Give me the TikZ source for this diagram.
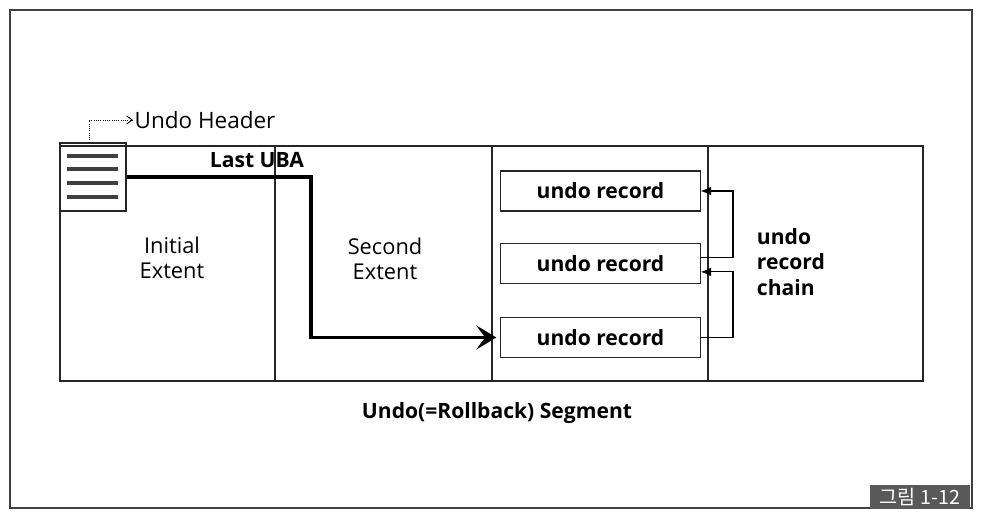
\documentclass[tikz,border=0pt]{standalone}
\usepackage{fontspec}
\setmainfont{Open Sans}
\newfontfamily\krfont{Noto Sans CJK KR}
\usepackage{tikz}
\usetikzlibrary{arrows.meta,positioning,calc}
\tikzset
{
	segline/.style = {draw=black!85, line width=0.8pt},
	hdrbox/.style = {rectangle, draw=black!85, line width=0.8pt, minimum width=1.65cm, minimum height=1.7cm, inner sep=0pt},
	recordbox/.style = {rectangle, draw=black!85, line width=0.8pt, minimum width=4.98cm, minimum height=1cm, font=\fontsize{15}{17}\selectfont\bfseries},
	extentlabel/.style = {align=center, font=\fontsize{15.5}{18}\selectfont},
	boldlabel/.style = {font=\fontsize{15}{18}\selectfont\bfseries},
	uba/.style = {line width=2.4pt, -{Stealth[length=5mm,width=6mm,inset=2.2mm]}},
	chainarrow/.style = {line width=0.8pt, -{Latex[length=2.6mm,width=2.2mm]}},
	hdrarrow/.style = {line width=0.6pt, densely dotted, -{Straight Barb[length=1.4mm,width=2mm]}}
}

\begin{document}
\begin{tikzpicture}[x=0.025cm, y=-0.025cm]
\useasboundingbox (0,0) rectangle (982,524);
% frame and segment
\draw[line width=1pt, black!75] (10,10) rectangle (972,508);
\draw[segline] (60,146) rectangle (923,381);
\foreach \xx in {275,492,708}
	\draw[segline] (\xx,146) -- (\xx,381);

% undo header block
\node[hdrbox] (hdr) at (93,177) {};
\foreach \yy in {156,169,183,197}
	\draw[line width=2.2pt, black!75] (67,\yy) -- (118,\yy);
\node[anchor=west, font=\fontsize{16}{18}\selectfont, inner sep=1pt] (uhlabel) at (133,120) {Undo Header};
\draw[hdrarrow] ([xshift=-0.1cm]hdr.north) |- (uhlabel.west);

% extents
\node[extentlabel] (initial) at (172,258) {Initial\\Extent};
\node[extentlabel] (second) at (385,259) {Second\\Extent};

% undo records
\node[recordbox] (rec1) at (600.5,191) {undo record};
\node[recordbox] (rec2) at (600.5,263.5) {undo record};
\node[recordbox] (rec3) at (600.5,337.5) {undo record};
\node[boldlabel, align=left, anchor=west] (chain) at (752,262) {undo\\record\\chain};

% last UBA
\node[boldlabel] (uba) at (257,160) {Last UBA};
\coordinate (bend) at (311,0);
\draw[uba] (hdr.east) -| (bend |- rec3.west) -- ([xshift=-0.1cm]rec3.west);

% chain
\coordinate (cx) at (733,0);
\coordinate (rec2out) at ([yshift=0.16cm]rec2.east);
\coordinate (rec2in) at ([yshift=-0.21cm]rec2.east);
\draw[chainarrow] (rec2out) -| (cx |- rec1.east) -- (rec1.east);
\draw[chainarrow] (rec3.east) -| (cx |- rec2in) -- (rec2in);

\node[boldlabel] (segname) at (497,413) {Undo(=Rollback) Segment};

% figure tag
\node[fill=black!65, text=white, minimum width=2.5cm, minimum height=0.62cm, inner sep=0pt, font=\krfont\fontsize{14}{16}\selectfont] (tag) at (920,497) {그림 1-12};
\end{tikzpicture}
\end{document}
